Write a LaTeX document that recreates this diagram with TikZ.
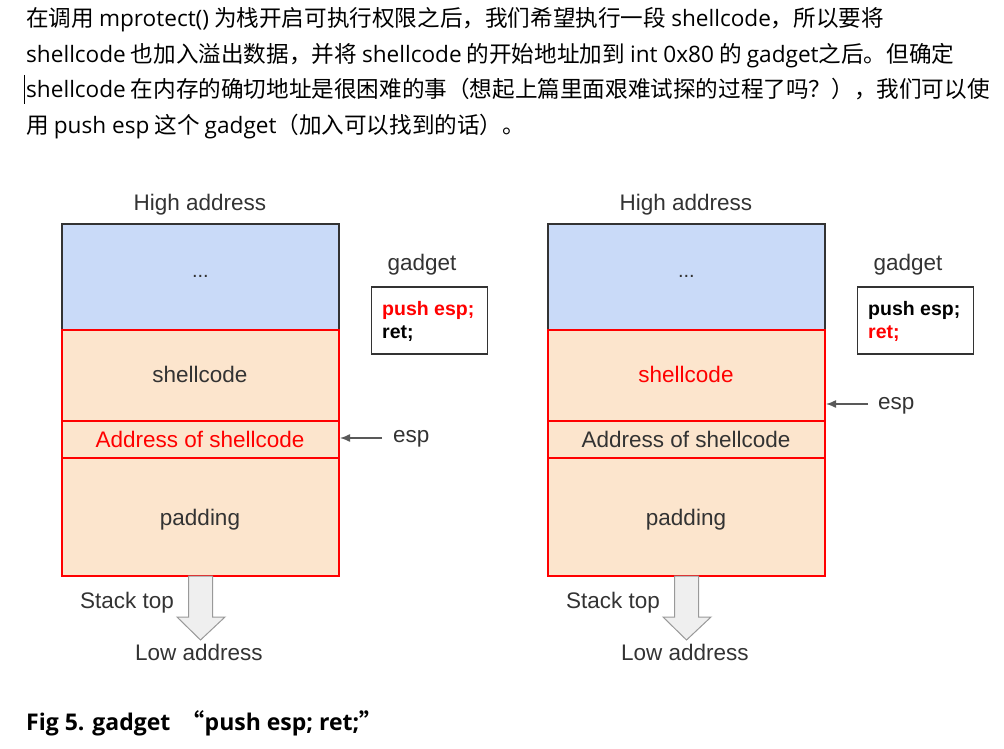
\documentclass[tikz,border=0pt]{standalone}
\usepackage{fontspec}
\setmainfont{Liberation Sans}
\newfontfamily\cjk{Noto Sans CJK SC}
\newfontfamily\latf{Open Sans}
\usetikzlibrary{arrows.meta}
\definecolor{blu}{HTML}{C9DAF8}
\definecolor{org}{HTML}{FCE5CD}
\definecolor{rd}{HTML}{FF0000}
\definecolor{dk}{HTML}{333333}
\definecolor{arr}{HTML}{595959}
\definecolor{dfill}{HTML}{EFEFEF}
\definecolor{dline}{HTML}{999999}
\newcommand\lt[1]{{\latf #1}}
\tikzset{
  para/.style={anchor=base west, inner sep=0pt, font=\cjk\fontsize{22.6}{27}\selectfont, text=black},
  lbl/.style={anchor=base, inner sep=0pt, font=\fontsize{22.5}{27}\selectfont, text=dk},
  bluebox/.style={draw=dk, line width=1.8pt, fill=blu, anchor=north west, minimum width=277pt, inner sep=0pt},
  redbox/.style={draw=rd, line width=1.8pt, fill=org, anchor=north west, minimum width=277pt, inner sep=0pt},
  gbox/.style={draw=dk, line width=1.6pt, fill=white, anchor=north west, minimum width=116pt, minimum height=67pt, inner sep=0pt},
  code/.style={anchor=base west, inner sep=0pt, font=\bfseries\fontsize{19.5}{23}\selectfont},
  esparrow/.style={draw=arr, line width=1.4pt, -{Latex[length=10pt,width=8pt]}},
  downarr/.style={draw=dline, line width=1pt, fill=dfill}
}
\begin{document}
\begin{tikzpicture}[x=1pt,y=-1pt]
\useasboundingbox (0,0) rectangle (1004,749);
% paragraph
\node[para] (p1) at (26,27) {在调用 \lt{mprotect()} 为栈开启可执行权限之后，我们希望执行一段 \lt{shellcode}，所以要将};
\node[para] (p2) at (26,62.5) {\lt{shellcode} 也加入溢出数据，并将 \lt{shellcode} 的开始地址加到 \lt{int 0x80} 的 \lt{gadget}之后。但确定};
\node[para] (p3) at (26,98) {\lt{shellcode} 在内存的确切地址是很困难的事（想起上篇里面艰难试探的过程了吗？），我们可以使};
\node[para] (p4) at (26,133.5) {用 \lt{push esp} 这个 \lt{gadget}（加入可以找到的话）。};
\coordinate (cur1) at (24.5,75);
\coordinate (cur2) at (24.5,104);
\draw[line width=1.6pt] (cur1) -- (cur2);

% ---------- left panel ----------
\node[lbl] (Lhigh) at (200,210) {High address};
\node[bluebox, minimum height=106pt] (Lblue) at (61,223) {};
\node[font=\fontsize{20}{24}\selectfont, text=dk] (Ldots) at (Lblue.center) {...};
\node[redbox, minimum height=91pt] (Lshell) at (61,329) {};
\node[redbox, minimum height=37pt] (Laddr) at (61,420) {};
\node[redbox, minimum height=118pt] (Lpad) at (61,457) {};
\node[lbl] (Lshellt) at (200,382) {shellcode};
\node[lbl, text=rd] (Laddrt) at (200,447) {Address of shellcode};
\node[lbl] (Lpadt) at (200,525) {padding};
\node[lbl] (Lgad) at (422,270) {gadget};
\node[gbox] (Lgbox) at (370.5,286) {};
\node[code, text=rd] (Lpush) at (382,315) {push esp;};
\node[code] (Lret) at (382,338) {ret;};
\node[lbl, anchor=base west] (Lesp) at (393,442) {esp};
\coordinate (Lespfrom) at (382,438);
\coordinate (Lespto) at (340,438);
\draw[esparrow] (Lespfrom) -- (Lespto);
\draw[downarr] (188.5,576) -- (212.5,576) -- (212.5,617) -- (225,617) -- (200.5,640) -- (177,617) -- (188.5,617) -- cycle;
\node[lbl, anchor=base west] (Lstack) at (80,608) {Stack top};
\node[lbl, anchor=base west] (Llow) at (135,660) {Low address};

% ---------- right panel ----------
\begin{scope}[xshift=486pt]
\node[lbl] (Rhigh) at (200,210) {High address};
\node[bluebox, minimum height=106pt] (Rblue) at (61,223) {};
\node[font=\fontsize{20}{24}\selectfont, text=dk] (Rdots) at (Rblue.center) {...};
\node[redbox, minimum height=91pt] (Rshell) at (61,329) {};
\node[redbox, minimum height=37pt] (Raddr) at (61,420) {};
\node[redbox, minimum height=118pt] (Rpad) at (61,457) {};
\node[lbl, text=rd] (Rshellt) at (200,382) {shellcode};
\node[lbl] (Raddrt) at (200,447) {Address of shellcode};
\node[lbl] (Rpadt) at (200,525) {padding};
\node[lbl] (Rgad) at (422,270) {gadget};
\node[gbox] (Rgbox) at (370.5,286) {};
\node[code] (Rpush) at (382,315) {push esp;};
\node[code, text=rd] (Rret) at (382,338) {ret;};
\node[lbl, anchor=base west] (Resp) at (392,409) {esp};
\coordinate (Respfrom) at (382,404);
\coordinate (Respto) at (340,404);
\draw[esparrow] (Respfrom) -- (Respto);
\draw[downarr] (188.5,576) -- (212.5,576) -- (212.5,617) -- (225,617) -- (200.5,640) -- (177,617) -- (188.5,617) -- cycle;
\node[lbl, anchor=base west] (Rstack) at (80,608) {Stack top};
\node[lbl, anchor=base west] (Rlow) at (135,660) {Low address};
\end{scope}

% caption
\node[anchor=base west, inner sep=0pt, font=\bfseries\fontsize{23}{27}\selectfont] (cap) at (26,730) {\latf\bfseries Fig 5. gadget {\cjk\bfseries \ “}push esp; ret;{\cjk\bfseries ”}};
\end{tikzpicture}
\end{document}
